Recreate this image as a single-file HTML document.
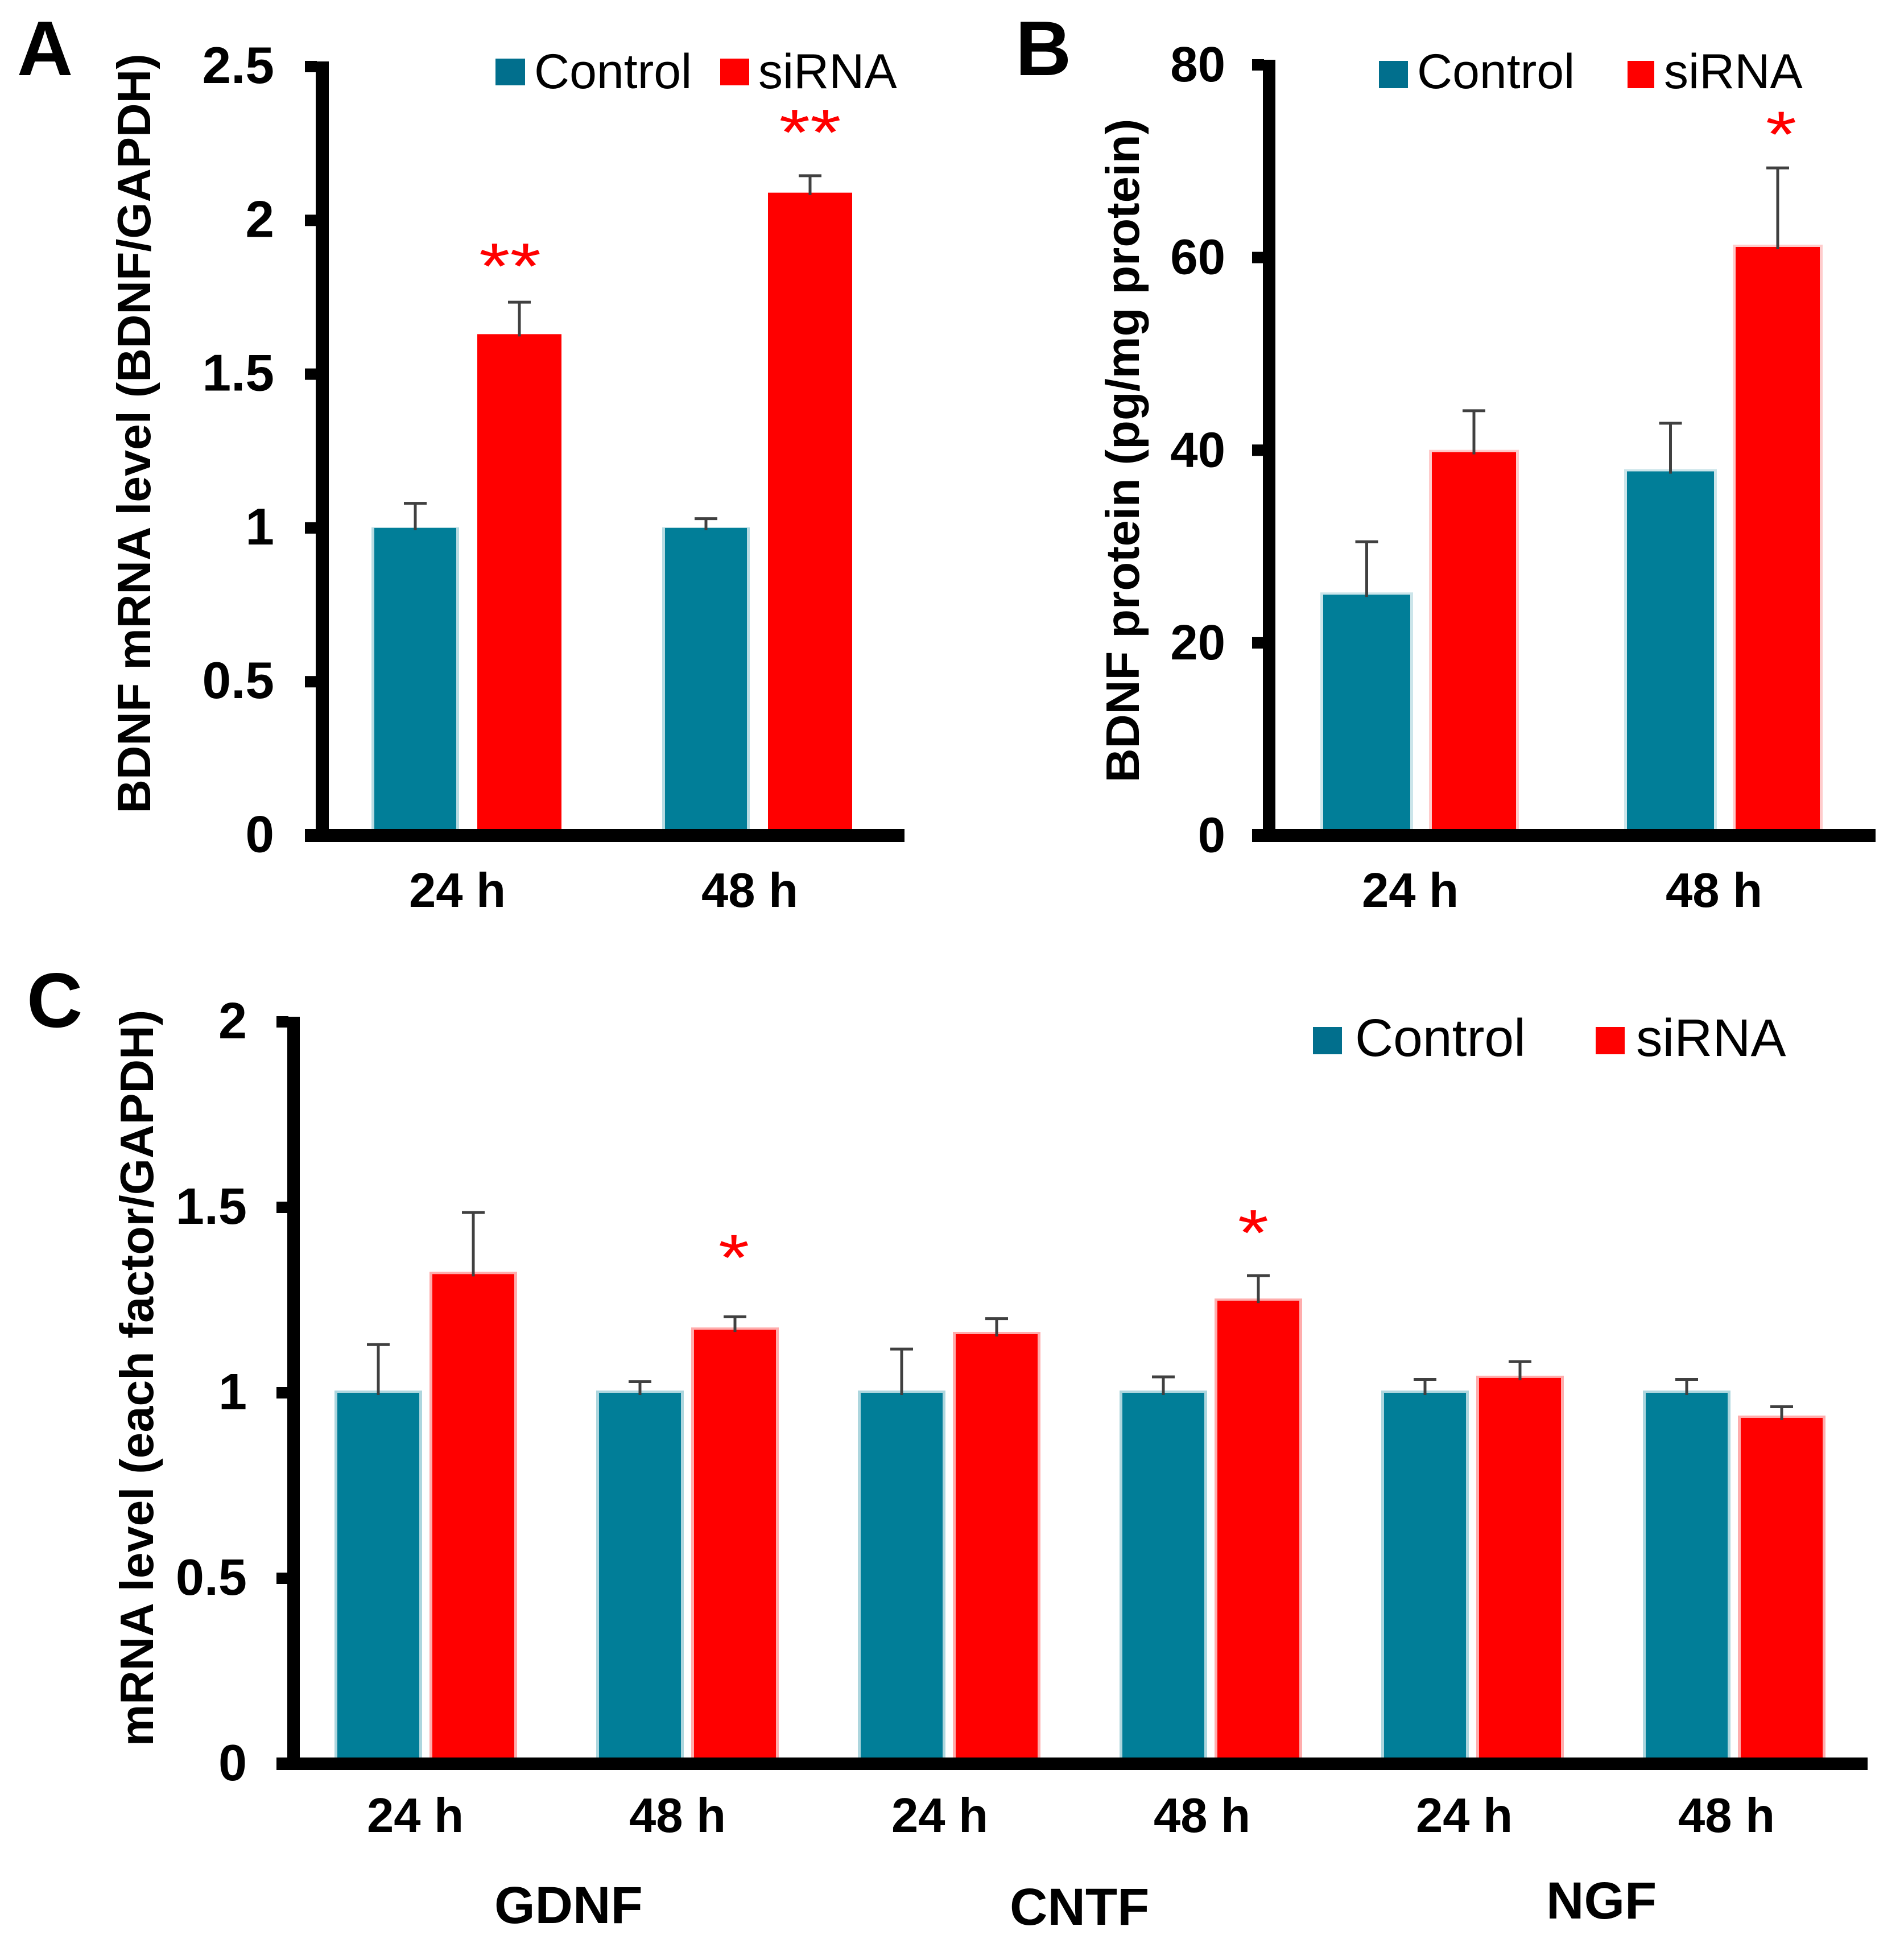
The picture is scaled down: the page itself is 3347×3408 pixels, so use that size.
<!DOCTYPE html>
<html lang="en">
<head>
<meta charset="utf-8">
<title>BDNF, GDNF, CNTF and NGF expression</title>
<style>
html,body{margin:0;padding:0;background:#fff;}
svg{display:block;}
text{font-family:"Liberation Sans",Arial,sans-serif;}
.b{font-weight:700;fill:#000;}
.leg{font-size:86px;fill:#000;}
</style>
</head>
<body>
<svg id="figure" xmlns="http://www.w3.org/2000/svg" width="3347" height="3408" viewBox="0 0 3347 3408">
  <rect x="0" y="0" width="3347" height="3408" fill="#fff"/>

  <g id="panel-a">
    <text class="b" x="30" y="132" font-size="136">A</text>
    <text class="b" font-size="82.5" text-anchor="middle" transform="translate(264 762) rotate(-90)">BDNF mRNA level (BDNF/GAPDH)</text>
    <rect x="871" y="103" width="52" height="47" fill="#016f8d"/>
    <text class="leg" x="939" y="155">Control</text>
    <rect x="1266" y="103" width="51" height="47" fill="#ff0000"/>
    <text class="leg" x="1333" y="155">siRNA</text>
  </g>

  <g id="panel-b">
    <text class="b" x="1785" y="132" font-size="136">B</text>
    <text class="b" font-size="83" text-anchor="middle" transform="translate(2002 792) rotate(-90)">BDNF protein (pg/mg protein)</text>
    <rect x="2424" y="107" width="51" height="48" fill="#016f8d"/>
    <text class="leg" x="2491" y="155">Control</text>
    <rect x="2861" y="107" width="47" height="48" fill="#ff0000"/>
    <text class="leg" x="2925" y="155">siRNA</text>
  </g>

  <g id="panel-c">
    <text class="b" x="47" y="1805" font-size="136">C</text>
    <text class="b" font-size="82.5" text-anchor="middle" transform="translate(269 2422) rotate(-90)">mRNA level (each factor/GAPDH)</text>
    <rect x="2308" y="1805" width="51" height="48" fill="#016f8d"/>
    <text class="leg" style="font-size:93px" x="2382" y="1856">Control</text>
    <rect x="2805" y="1805" width="51" height="48" fill="#ff0000"/>
    <text class="leg" style="font-size:93px" x="2876" y="1856">siRNA</text>
    <text class="b" font-size="92" x="869" y="3380">GDNF</text>
    <text class="b" font-size="92" x="1775" y="3383">CNTF</text>
    <text class="b" font-size="92" x="2718" y="3372">NGF</text>
  </g>
</svg>

<script>
const panelACategories = ['24 h', '48 h'];
const panelAControl = [1, 1];
const panelASirna = [1.63, 2.09];
const panelAControlErr = [0.08, 0.03];
const panelASirnaErr = [0.104, 0.055];
const panelATicks = [0, 0.5, 1, 1.5, 2, 2.5];
const panelAStars = ['**', '**'];
const panelAStarCategory = [0, 1];
const panelAStarLevel = [1.889, 2.324];

const panelBCategories = ['24 h', '48 h'];
const panelBControl = [25.0, 37.8];
const panelBSirna = [39.8, 61.1];
const panelBControlErr = [5.5, 5.0];
const panelBSirnaErr = [4.3, 8.2];
const panelBTicks = [0, 20, 40, 60, 80];
const panelBStars = ['*'];
const panelBStarCategory = [1];
const panelBStarLevel = [74.0];

const panelCCategories = ['24 h', '48 h', '24 h', '48 h', '24 h', '48 h'];
const panelCControl = [1, 1, 1, 1, 1, 1];
const panelCSirna = [1.32, 1.17, 1.158, 1.248, 1.04, 0.9325];
const panelCControlErr = [0.13, 0.03, 0.118, 0.043, 0.036, 0.036];
const panelCSirnaErr = [0.166, 0.035, 0.042, 0.068, 0.044, 0.03];
const panelCTicks = [0, 0.5, 1, 1.5, 2];
const panelCStars = ['*', '*'];
const panelCStarCategory = [1, 3];
const panelCStarLevel = [1.396, 1.463];

const SVG_NS = 'http://www.w3.org/2000/svg';
const TEAL = '#017e98';
const RED = '#ff0000';
const ERR = '#404040';

function make(parent, tag, attrs, text) {
  const el = document.createElementNS(SVG_NS, tag);
  for (const k in attrs) el.setAttribute(k, attrs[k]);
  if (text !== undefined) el.textContent = text;
  parent.appendChild(el);
  return el;
}

function drawPanel(o) {
  const root = document.getElementById(o.id);
  const yScale = function (v) { return o.y0 - (o.y0 - o.yTop) * (v / o.vMax); };
  const barLeft = function (i) { return o.x0 + o.step * i; };
  const seriesList = [
    { key: 'control', vals: o.control, errs: o.controlErr, color: TEAL, offset: 0, w: o.barWC, halo: o.haloTeal },
    { key: 'sirna', vals: o.sirna, errs: o.sirnaErr, color: RED, offset: o.redOffset, w: o.barWR, halo: o.haloRed }
  ];

  seriesList.forEach(function (s) {
    s.vals.forEach(function (v, i) {
      const x = barLeft(i) + s.offset;
      const top = yScale(v);
      const halo = make(root, 'rect', { x: x - 5, y: top - o.haloTop, width: s.w + 10, height: o.y0 - top + o.haloTop, fill: s.color, 'fill-opacity': s.halo });
      
      
      const bar = make(root, 'rect', { x: x, y: top, width: s.w, height: o.y0 - top, fill: s.color });
      
      
      const cx = x + s.w / 2;
      const errTop = yScale(v + s.errs[i]);
      const stem = make(root, 'line', { x1: cx, x2: cx, y1: top + 4, y2: errTop, stroke: ERR, 'stroke-width': 5 });
      
      
      const cap = make(root, 'line', { x1: cx - 20, x2: cx + 20, y1: errTop, y2: errTop, stroke: ERR, 'stroke-width': 5 });
      
      
    });
  });

  const yAxis = make(root, 'rect', { x: o.axisL, y: o.yTop - 9, width: o.axisW, height: o.y0 - o.yTop + 9, fill: '#000' });
  
  
  const xAxis = make(root, 'rect', { x: o.tickL, y: o.y0 - o.xThick / 2, width: o.xEnd - o.tickL, height: o.xThick, fill: '#000' });
  
  

  o.ticks.forEach(function (t) {
    const y = yScale(t);
    if (t !== 0) {
      const tick = make(root, 'rect', { x: o.tickL, y: y - 10, width: o.axisL - o.tickL + 2, height: 20, fill: '#000' });
      
      
    }
    const lab = make(root, 'text', { x: o.labelR, y: y + 29, 'text-anchor': 'end', 'font-size': o.tickFont, 'font-weight': 700, fill: '#000' }, String(t));
    
    
  });

  o.categories.forEach(function (c, i) {
    const lab = make(root, 'text', { x: o.x0 + o.catOffset + o.catStep * i, y: o.catY, 'text-anchor': 'middle', 'font-size': o.catFont, 'font-weight': 700, fill: '#000' }, c);
    
    
  });

  o.stars.forEach(function (s, i) {
    const cat = o.starCategory[i];
    const cx = barLeft(cat) + o.redOffset + o.barWR / 2 + o.starDx[i];
    const cy = yScale(o.starLevel[i]);
    const star = make(root, 'text', { transform: 'translate(' + cx + ' ' + (cy + 60) + ') scale(1.0 0.82)', 'text-anchor': 'middle', 'font-size': 140, fill: RED }, s);
    
    
  });
}

drawPanel({
  id: 'panel-a', categories: panelACategories, control: panelAControl, sirna: panelASirna,
  controlErr: panelAControlErr, sirnaErr: panelASirnaErr, ticks: panelATicks,
  stars: panelAStars, starCategory: panelAStarCategory, starLevel: panelAStarLevel, starDx: [-16.5, 0],
  vMax: 2.5, y0: 1468.5, yTop: 117, xThick: 23, x0: 658, step: 511, barWC: 144, barWR: 148, redOffset: 181,
  axisL: 555, axisW: 23, tickL: 536, xEnd: 1590, labelR: 482, tickFont: 91,
  catOffset: 146, catStep: 514, catY: 1594, catFont: 85, haloTeal: 0.28, haloRed: 0, haloTop: 1
});

drawPanel({
  id: 'panel-b', categories: panelBCategories, control: panelBControl, sirna: panelBSirna,
  controlErr: panelBControlErr, sirnaErr: panelBSirnaErr, ticks: panelBTicks,
  stars: panelBStars, starCategory: panelBStarCategory, starLevel: panelBStarLevel, starDx: [6],
  vMax: 80, y0: 1468.5, yTop: 114, xThick: 23, x0: 2326, step: 534, barWC: 153, barWR: 148, redOffset: 191,
  axisL: 2220, axisW: 22, tickL: 2201, xEnd: 3297, labelR: 2154, tickFont: 87,
  catOffset: 153, catStep: 534, catY: 1594, catFont: 85, haloTeal: 0.2, haloRed: 0.2, haloTop: 4
});

drawPanel({
  id: 'panel-c', categories: panelCCategories, control: panelCControl, sirna: panelCSirna,
  controlErr: panelCControlErr, sirnaErr: panelCSirnaErr, ticks: panelCTicks,
  stars: panelCStars, starCategory: panelCStarCategory, starLevel: panelCStarLevel, starDx: [-2, -9],
  vMax: 2, y0: 3100, yTop: 1796, xThick: 22, x0: 593, step: 460, barWC: 144, barWR: 144, redOffset: 167,
  axisL: 505, axisW: 22, tickL: 486, xEnd: 3283, labelR: 434, tickFont: 90,
  catOffset: 137, catStep: 461, catY: 3220, catFont: 85, haloTeal: 0.32, haloRed: 0.32, haloTop: 4
});
</script>
</body>
</html>
